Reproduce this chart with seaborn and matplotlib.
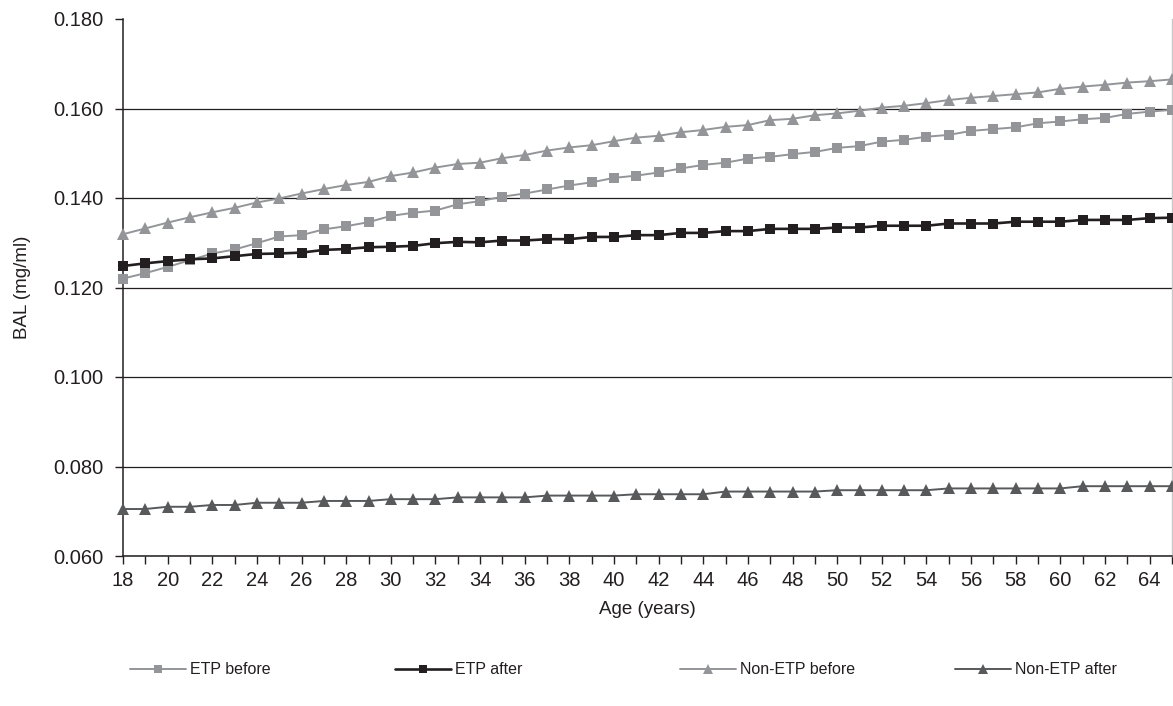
import matplotlib
matplotlib.use("Agg")
import matplotlib.pyplot as plt
import seaborn as sns
import pandas as pd

# ages on the x axis (18..65)
ages = list(range(18, 66))

etp_before = [
    0.1220, 0.1232, 0.1246, 0.1261, 0.1276, 0.1285, 0.1299, 0.1314, 0.1317, 0.1330,
    0.1337, 0.1346, 0.1360, 0.1367, 0.1372, 0.1386, 0.1393, 0.1403, 0.1410, 0.1419,
    0.1428, 0.1435, 0.1445, 0.1450, 0.1457, 0.1466, 0.1474, 0.1479, 0.1488, 0.1492,
    0.1498, 0.1503, 0.1512, 0.1516, 0.1526, 0.1530, 0.1537, 0.1541, 0.1550, 0.1554,
    0.1558, 0.1567, 0.1571, 0.1576, 0.1579, 0.1588, 0.1593, 0.1597,
]
etp_after = [
    0.1248, 0.1254, 0.1259, 0.1263, 0.1265, 0.1270, 0.1275, 0.1276, 0.1278, 0.1284,
    0.1286, 0.1290, 0.1291, 0.1293, 0.1299, 0.1302, 0.1301, 0.1305, 0.1305, 0.1308,
    0.1308, 0.1313, 0.1313, 0.1317, 0.1317, 0.1322, 0.1322, 0.1326, 0.1326, 0.1331,
    0.1331, 0.1331, 0.1334, 0.1334, 0.1338, 0.1338, 0.1338, 0.1343, 0.1343, 0.1343,
    0.1347, 0.1347, 0.1347, 0.1351, 0.1351, 0.1351, 0.1355, 0.1356,
]
non_etp_before = [
    0.1319, 0.1332, 0.1345, 0.1357, 0.1368, 0.1378, 0.1390, 0.1399, 0.1410, 0.1420,
    0.1429, 0.1436, 0.1449, 0.1457, 0.1468, 0.1476, 0.1479, 0.1489, 0.1496, 0.1506,
    0.1513, 0.1518, 0.1527, 0.1535, 0.1539, 0.1547, 0.1552, 0.1559, 0.1563, 0.1574,
    0.1577, 0.1585, 0.1589, 0.1595, 0.1602, 0.1606, 0.1612, 0.1619, 0.1624, 0.1628,
    0.1632, 0.1636, 0.1644, 0.1649, 0.1653, 0.1658, 0.1661, 0.1665,
]
non_etp_after = [
    0.0705, 0.0705, 0.0710, 0.0710, 0.0714, 0.0714, 0.0719, 0.0719, 0.0719, 0.0723,
    0.0723, 0.0723, 0.0727, 0.0727, 0.0727, 0.0731, 0.0731, 0.0731, 0.0731, 0.0735,
    0.0735, 0.0735, 0.0735, 0.0738, 0.0738, 0.0738, 0.0738, 0.0744, 0.0744, 0.0744,
    0.0744, 0.0744, 0.0747, 0.0747, 0.0747, 0.0747, 0.0747, 0.0751, 0.0751, 0.0751,
    0.0751, 0.0751, 0.0751, 0.0756, 0.0756, 0.0756, 0.0756, 0.0756,
]

series_names = ["ETP before", "ETP after", "Non-ETP before", "Non-ETP after"]
series_values = [etp_before, etp_after, non_etp_before, non_etp_after]
y_ticks = [0.060, 0.080, 0.100, 0.120, 0.140, 0.160, 0.180]

# look of each series
styles = {
    "ETP before": dict(color="#939598", marker="s", ms=7.5, lw=1.4),
    "ETP after": dict(color="#231f20", marker="s", ms=7.5, lw=1.9),
    "Non-ETP before": dict(color="#939598", marker="^", ms=9.0, lw=1.4),
    "Non-ETP after": dict(color="#58595b", marker="^", ms=9.0, lw=1.4),
}
# left edge of each legend entry, in figure pixels
legend_x = [130, 395, 680, 955]

df = pd.DataFrame({
    "age": ages * len(series_names),
    "bal": [v for vals in series_values for v in vals],
    "series": [n for n in series_names for _ in ages],
})

sns.set_style("white")
plt.rcParams["font.family"] = ["Liberation Sans", "DejaVu Sans"]
text_color = "#231f20"

fig = plt.figure(figsize=(11.73, 7.06), dpi=100)
ax = fig.add_axes([123 / 1173, 1 - 556 / 706, 1049 / 1173, 537 / 706])

handles = []
for name in series_names:
    st = styles[name]
    sns.lineplot(data=df[df["series"] == name], x="age", y="bal", ax=ax,
                 color=st["color"], marker=st["marker"], markersize=st["ms"],
                 markeredgewidth=0, linewidth=st["lw"], clip_on=False,
                 zorder=3, label=name, legend=False)
    handles.append(ax.lines[-1])

ax.set_xlim(ages[0], ages[-1])
ax.set_ylim(y_ticks[0], y_ticks[-1])
ax.set_yticks(y_ticks)
ax.set_yticklabels([f"{t:.3f}" for t in y_ticks])
ax.set_xticks(ages)
ax.set_xticklabels([str(a) if a % 2 == 0 else "" for a in ages])

ax.grid(axis="y", color=text_color, linewidth=0.9)
ax.get_ygridlines()[-1].set_visible(False)
ax.set_axisbelow(True)

for side in ["left", "bottom"]:
    ax.spines[side].set_color(text_color)
    ax.spines[side].set_linewidth(1.1)
ax.spines["top"].set_visible(False)
ax.spines["right"].set_color("#c8c8c8")
ax.spines["right"].set_linewidth(1.0)

ax.tick_params(axis="both", direction="out", length=6, width=1,
               color=text_color, labelsize=14.5, labelcolor=text_color)
ax.tick_params(axis="y", pad=8)
ax.tick_params(axis="x", pad=5)
ax.tick_params(left=True, bottom=True)

ax.set_xlabel("Age (years)", fontsize=13.5, color=text_color, labelpad=8)
ax.set_ylabel("BAL (mg/ml)", fontsize=13.5, color=text_color, labelpad=16)

for h, name, x0 in zip(handles, series_names, legend_x):
    leg = fig.legend([h], [name], loc="center left",
                     bbox_to_anchor=(x0 / 1173, 1 - 670 / 706),
                     frameon=False, fontsize=11.5, handlelength=3.5,
                     handletextpad=0.25, markerscale=0.85, borderaxespad=0,
                     borderpad=0, labelcolor=text_color)

fig.savefig("out.png", dpi=100)
